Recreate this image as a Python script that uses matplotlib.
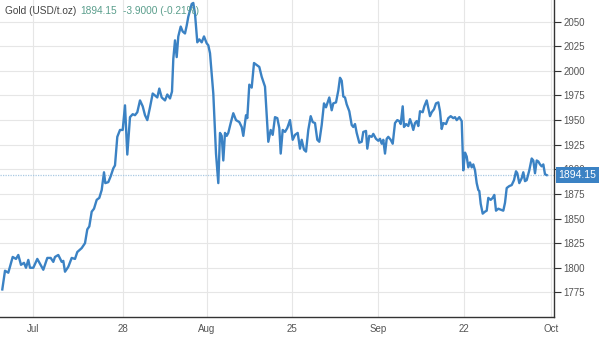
import matplotlib.pyplot as plt
import matplotlib.ticker as mticker

# gold price trace: horizontal position on the chart's time scale, price in USD/t.oz
t = [2.3, 5, 8.3, 12.7, 16, 18.3, 21, 24, 26, 28.3, 30, 33.3, 37.3, 40, 43.3, 47.3,
     50.7, 53.3, 55, 58.3, 61.7, 63.3, 65, 68.3, 71.7, 75, 77.3, 81.7, 85, 87.3,
     89.3, 91.7, 94, 96.7, 99.3, 101.7, 104, 105.3, 108.3, 110.7, 113.3, 115,
     117.3, 120, 122.7, 125, 127.3, 130, 132.7, 135, 137.3, 140, 142.7, 145,
     147.3, 150, 152.7, 155, 157.3, 159.3, 161.7, 165, 167.3, 170, 172, 173.3,
     175, 176.7, 178.3, 180.7, 182.7, 185, 186.7, 188.3, 191.7, 193.3, 195,
     197.3, 199.3, 201.7, 204, 206.7, 208.3, 210, 213.3, 216, 218.3, 220, 221.7,
     223.3, 225, 226.7, 228.3, 230.7, 233.3, 236, 239.3, 241.7, 243.3, 246,
     247.3, 249.3, 251.7, 254, 256.7, 259.3, 261.7, 265, 268.3, 270.7, 272.7,
     275, 277.3, 279.3, 280.7, 282.7, 285, 287.3, 290, 292.7, 295, 297.7, 300,
     301.7, 304, 306, 308.3, 310.7, 312.7, 315, 317.3, 319.3, 321.7, 324, 326,
     327.7, 329.3, 331.7, 333.3, 336, 338.3, 340, 341.7, 343.3, 345, 346.7,
     349.3, 351.7, 353.3, 355, 356.7, 359.3, 361.7, 363.3, 366, 367.3, 369.3,
     371.7, 373.3, 376, 378.3, 380, 381.7, 383.3, 385, 386.7, 388.3, 390.7,
     392.7, 395, 397.3, 399.3, 400.7, 402.7, 404, 406, 408.3, 410, 411.7, 413.3,
     415, 416.7, 418.3, 420, 422.7, 424.3, 426.7, 428.3, 430, 431.7, 434, 436,
     438.3, 440, 441.7, 443.3, 446, 448.3, 450.7, 453.3, 455, 456.7, 459.3,
     461.7, 463.3, 465, 466.7, 468.3, 470, 471.7, 473.3, 475, 476.7, 478.3,
     479.3, 480.7, 482.7, 485, 486.7, 488.3, 490.7, 492.7, 494.3, 496, 498.3,
     500.7, 503.3, 505, 506.7, 509.3, 511.7, 514, 516, 517.3, 519.3, 521.7,
     523.3, 525, 526.7, 529.3, 531.7, 533.3, 535, 536.7, 538.3, 540, 541.7,
     543.3, 545, 546.7]
price = [1778, 1797, 1795, 1811, 1809, 1813, 1803, 1805, 1800, 1808, 1800, 1800,
         1809, 1804, 1798, 1810, 1810, 1806, 1811, 1813, 1806, 1807, 1796, 1801,
         1810, 1809, 1816, 1820, 1825, 1839, 1842, 1857, 1860, 1869, 1871, 1879,
         1897, 1886, 1887, 1893, 1901, 1904, 1933, 1940, 1940, 1965, 1915, 1953,
         1956, 1955, 1958, 1970, 1964, 1955, 1950, 1963, 1977, 1975, 1973, 1982,
         1973, 1970, 1976, 1972, 1979, 2012, 2031, 2014, 2035, 2045, 2040, 2038,
         2046, 2055, 2068, 2069, 2058, 2029, 2032, 2029, 2035, 2028, 2026, 2018,
         1977, 1916, 1886, 1937, 1934, 1909, 1937, 1934, 1937, 1947, 1957, 1950,
         1948, 1943, 1934, 1955, 1952, 1986, 1983, 2008, 2006, 2004, 1994, 1984,
         1928, 1940, 1935, 1953, 1952, 1942, 1916, 1940, 1938, 1942, 1950, 1930,
         1935, 1937, 1921, 1930, 1920, 1918, 1940, 1954, 1948, 1947, 1930, 1928,
         1945, 1967, 1963, 1968, 1973, 1960, 1967, 1968, 1980, 1993, 1990, 1974,
         1973, 1966, 1959, 1945, 1943, 1946, 1937, 1927, 1928, 1938, 1939, 1921,
         1934, 1933, 1936, 1931, 1929, 1931, 1926, 1930, 1916, 1931, 1933, 1930,
         1926, 1947, 1950, 1949, 1946, 1964, 1943, 1946, 1944, 1951, 1946, 1940,
         1947, 1949, 1944, 1959, 1958, 1964, 1970, 1962, 1954, 1958, 1961, 1967,
         1968, 1959, 1941, 1947, 1946, 1952, 1954, 1952, 1953, 1950, 1953, 1949,
         1899, 1917, 1913, 1902, 1907, 1902, 1905, 1899, 1886, 1879, 1878, 1865,
         1855, 1857, 1858, 1871, 1869, 1871, 1874, 1858, 1860, 1859, 1858, 1866,
         1881, 1883, 1884, 1889, 1898, 1896, 1886, 1891, 1897, 1888, 1889, 1899,
         1911, 1909, 1896, 1909, 1908, 1905, 1903, 1905, 1895, 1894.15]

last_price = 1894.15
change = -3.9
change_pct = -0.21

tick_pos = [33, 122.7, 207, 292.3, 378.3, 464, 551]
tick_labels = ['Jul', '28', 'Aug', '25', 'Sep', '22', 'Oct']
y_ticks = list(range(1775, 2051, 25))

plt.rcParams['font.family'] = ['Liberation Sans', 'DejaVu Sans']

fig = plt.figure(figsize=(6, 3.38), dpi=100)
ax = fig.add_axes([0.0, 1 - 317 / 338, 554 / 600, 317 / 338])

ax.plot(t, price, color='#3b82c4', lw=1.7, solid_joinstyle='round', zorder=3)
ax.axhline(last_price, color='#a9c9e2', lw=0.9, ls=(0, (1, 1)), zorder=2)

ax.set_xlim(0, 554)
ax.set_ylim(1750, 2072)

ax.yaxis.tick_right()
ax.set_yticks(y_ticks)
ax.yaxis.set_major_formatter(mticker.FormatStrFormatter('%d'))
ax.set_xticks(tick_pos)
ax.set_xticklabels(tick_labels)
ax.tick_params(axis='y', direction='out', length=5, width=0.8, color='#333333',
               labelsize=7, labelcolor='#555555', pad=2)
ax.tick_params(axis='x', length=0, labelsize=7, labelcolor='#555555', pad=5)

ax.grid(True, color='#e6e6e6', lw=0.8, zorder=0)
for side in ['top', 'left']:
    ax.spines[side].set_visible(False)
for side in ['bottom', 'right']:
    ax.spines[side].set_color('#333333')
    ax.spines[side].set_linewidth(1.0)

# current price marker on the right axis
ax.annotate(f'{last_price:.2f}', xy=(1, last_price), xycoords=('axes fraction', 'data'),
            xytext=(3, 0), textcoords='offset points', ha='left', va='center',
            fontsize=7.5, color='white', zorder=5,
            bbox=dict(boxstyle='square,pad=0.25', fc='#3b82c4', ec='none'),
            annotation_clip=False)

# header line
fig.text(5 / 600, 1 - 11 / 338, 'Gold (USD/t.oz)', fontsize=7.3, color='#444444',
         va='center', ha='left')
fig.text(80 / 600, 1 - 11 / 338, f'{last_price:.2f}', fontsize=7.3, color='#5a9e8c',
         va='center', ha='left')
fig.text(123 / 600, 1 - 11 / 338, f'{change:.4f} ({change_pct:.2f}%)', fontsize=7.3,
         color='#5a9e8c', va='center', ha='left')

fig.savefig('out.png', dpi=100)
